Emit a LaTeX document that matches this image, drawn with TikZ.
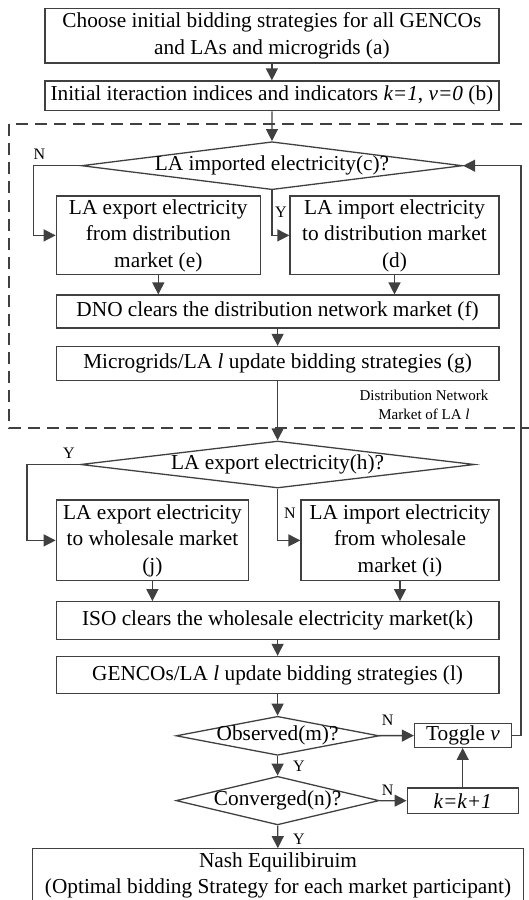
\documentclass[tikz,border=0pt]{standalone}
\usepackage{fontspec}
\setmainfont{Liberation Serif}
\usetikzlibrary{shapes.geometric,arrows.meta}
\definecolor{lc}{RGB}{64,64,64}
\begin{document}
\begin{tikzpicture}[x=1pt,y=-1pt,
  box/.style={draw=lc, line width=1.3pt, rectangle, inner sep=0pt, align=center,
    font=\fontsize{21.3}{26.5}\selectfont, text=black},
  dia/.style={draw=lc, line width=1.3pt, diamond, inner sep=0pt},
  dtext/.style={font=\fontsize{21.3}{26.5}\selectfont, inner sep=0pt, text=black},
  arr/.style={draw=lc, line width=1.3pt, -{Triangle[length=12pt,width=12pt]}},
  ln/.style={draw=lc, line width=1.3pt},
  yn/.style={font=\fontsize{16}{16}\selectfont, inner sep=0pt, text=black},
  small/.style={font=\fontsize{15}{18.6}\selectfont, align=center, inner sep=0pt, text=black},
  dashbox/.style={draw=lc, line width=1.3pt, dash pattern=on 12pt off 7pt}
]
\clip (0,0) rectangle (529,900);

% dashed region (right side lies beyond the page)
\draw[dashbox] (9,124) rectangle (560,428);

% nodes
\node[box, minimum width=454pt, minimum height=54.6pt] (a) at (271.9,35.7)
  {Choose initial bidding strategies for all GENCOs\\and LAs and microgrids (a)};
\node[box, minimum width=454pt, minimum height=29.6pt] (b) at (271.9,95.8)
  {Initial iteraction indices and indicators \textit{k=1}, \textit{v=0} (b)};
\node[dia, minimum width=381pt, minimum height=48pt] (c) at (272,165.7) {};
\node[dtext] (ct) at (c) {LA imported electricity(c)?};
\node[box, minimum width=204pt, minimum height=78.8pt] (e) at (158.3,235.4)
  {LA export electricity\\from distribution\\market (e)};
\node[box, minimum width=209pt, minimum height=78.8pt] (d) at (394.5,235.4)
  {LA import electricity\\to distribution market\\(d)};
\node[box, minimum width=442.7pt, minimum height=33pt] (f) at (277.6,311.6)
  {DNO clears the distribution network market (f)};
\node[box, minimum width=442.7pt, minimum height=34pt] (g) at (277.6,363.5)
  {Microgrids/LA \textit{l} update bidding strategies (g)};
\node[small] (dn) at (424,405) {Distribution Network\\Market of LA \textit{l}};
\node[dia, minimum width=394pt, minimum height=47pt] (h) at (277.6,464.5) {};
\node[dtext] (ht) at (h) {LA export electricity(h)?};
\node[box, minimum width=192.2pt, minimum height=80.7pt] (j) at (152.4,540.4)
  {LA export electricity\\to wholesale market\\(j)};
\node[box, minimum width=198pt, minimum height=80.7pt] (i) at (400,540.4)
  {LA import electricity\\from wholesale\\market (i)};
\node[box, minimum width=442.7pt, minimum height=37.5pt] (k) at (277.6,620.5)
  {ISO clears the wholesale electricity market(k)};
\node[box, minimum width=442.7pt, minimum height=37pt] (l) at (277.6,675)
  {GENCOs/LA \textit{l} update bidding strategies (l)};
\node[dia, minimum width=203pt, minimum height=39pt] (m) at (277.6,735.8) {};
\node[dtext] (mt) at (m) {Observed(m)?};
\node[box, minimum width=97pt, minimum height=23.6pt] (tg) at (463,735.5)
  {Toggle \textit{v}};
\node[dia, minimum width=203pt, minimum height=48.6pt] (n) at (277.6,800.6) {};
\node[dtext] (nt) at (n) {Converged(n)?};
\node[box, minimum width=111pt, minimum height=25.4pt] (kk) at (462.7,800.7)
  {\textit{k=k+1}};
\node[box, minimum width=490.6pt, minimum height=70pt] (nash) at (278,883.8) {};
\node[dtext, align=center] (nasht) at (278,875.5)
  {Nash Equilibiruim\\(Optimal bidding Strategy for each market participant)};

% connectors
\coordinate (cl) at (33.7,165.7);
\coordinate (hl) at (27,464.5);
\coordinate (rl) at (521,735.5);

\draw[arr] (a) -- (b);
\draw[arr] (b) -- (c);
\draw[arr] (c.west) -- (cl) |- (e.west);
\draw[arr] (c.south) |- (d.west);
\draw[arr] (e.south) -- (e.south |- f.north);
\draw[arr] (d.south) -- (d.south |- f.north);
\draw[arr] (f) -- (g);
\draw[arr] (g) -- (h);
\draw[arr] (h.west) -- (hl) |- (j.west);
\draw[arr] (h.south) |- (i.west);
\draw[arr] (j.south) -- (j.south |- k.north);
\draw[arr] (i.south) -- (i.south |- k.north);
\draw[arr] (k) -- (l);
\draw[arr] (l) -- (m);
\draw[arr] (m) -- (tg);
\draw[arr] (m) -- (n);
\draw[arr] (n) -- (kk);
\draw[arr] (kk.north) -- (kk.north |- tg.south);
\draw[arr] (tg.east) -- (rl) |- (c.east);
\draw[arr] (n) -- (nash);

% labels
\node[yn] (lN1) at (39.4,154.4) {N};
\node[yn] (lY1) at (281,212) {Y};
\node[yn] (lY2) at (69,453.6) {Y};
\node[yn] (lN2) at (290,513.6) {N};
\node[yn] (lN3) at (387.7,720.4) {N};
\node[yn] (lY3) at (299,765.9) {Y};
\node[yn] (lN4) at (387.7,790.5) {N};
\node[yn] (lY4) at (299,839.4) {Y};
\end{tikzpicture}
\end{document}
